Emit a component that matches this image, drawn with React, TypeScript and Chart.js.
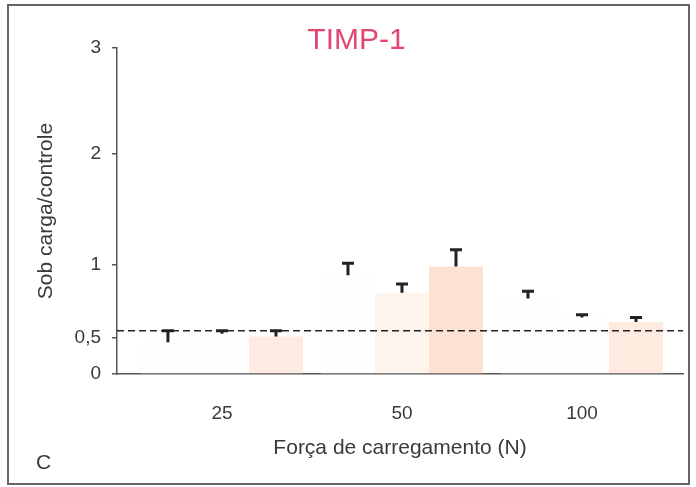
import { useEffect, useRef } from 'react';
import { Chart, registerables, LinearScale } from 'chart.js';

// ---- data ----
const forceLabels = ['25', '50', '100'];
const forcePositions = [0, 1, 2];

const series1 = [0.44, 0.93, 0.77];
const series1Upper = [0.56, 1.03, 0.83];
const series2 = [0.53, 0.81, 0.64];
const series2Upper = [0.56, 0.88, 0.67];
const series3 = [0.51, 0.99, 0.61];
const series3Upper = [0.56, 1.15, 0.65];

const referenceLevel = 0.55;

const yTickValues = [0, 0.5, 1, 2, 3];
const yTickLabels = ['0', '0,5', '1', '2', '3'];

// axis of the original is not uniform between 0 and 1: fraction of axis height for each tick value
const yAxisFractions = [0, 0.1104, 0.3344, 0.6748, 1];

function valueToFraction(v: number): number {
  const b = yTickValues;
  const f = yAxisFractions;
  if (v <= b[0]) return f[0] + (v - b[0]) * (f[1] - f[0]) / (b[1] - b[0]);
  for (let i = 1; i < b.length; i++) {
    if (v <= b[i]) {
      return f[i - 1] + (v - b[i - 1]) * (f[i] - f[i - 1]) / (b[i] - b[i - 1]);
    }
  }
  const n = b.length - 1;
  return f[n] + (v - b[n]) * (f[n] - f[n - 1]) / (b[n] - b[n - 1]);
}

function fractionToValue(fr: number): number {
  const b = yTickValues;
  const f = yAxisFractions;
  for (let i = 1; i < f.length; i++) {
    if (fr <= f[i]) {
      return b[i - 1] + (fr - f[i - 1]) * (b[i] - b[i - 1]) / (f[i] - f[i - 1]);
    }
  }
  return b[b.length - 1];
}

class PiecewiseScale extends LinearScale {
  static id = 'piecewise';
  static defaults = LinearScale.defaults;
  getPixelForValue(value: any) {
    if (value === null || value === undefined || isNaN(value)) return NaN;
    return this.getPixelForDecimal(valueToFraction(value));
  }
  getValueForPixel(pixel: number) {
    return fractionToValue(this.getDecimalForPixel(pixel));
  }
}

Chart.register(...registerables, PiecewiseScale as any);

const upperSeries = [series1Upper, series2Upper, series3Upper];

const FONT = "'Liberation Sans', Arial, Helvetica, sans-serif";
const TEXT = '#3a3a3a';

const errorBarPlugin = {
  id: 'errorBars',
  afterDatasetsDraw(chart: any) {
    const ctx = chart.ctx;
    const y = chart.scales.y;
    const area = chart.chartArea;
    // reference dashed line
    ctx.save();
    ctx.strokeStyle = '#222';
    ctx.lineWidth = 1.5;
    ctx.setLineDash([7, 4]);
    const ry = y.getPixelForValue(referenceLevel);
    ctx.beginPath();
    ctx.moveTo(area.left, ry);
    ctx.lineTo(area.right, ry);
    ctx.stroke();
    ctx.restore();

    ctx.save();
    ctx.strokeStyle = '#222';
    ctx.lineWidth = 3;
    ctx.lineCap = 'butt';
    chart.data.datasets.forEach((_ds: any, di: number) => {
      const meta = chart.getDatasetMeta(di);
      meta.data.forEach((bar: any, i: number) => {
        const top = y.getPixelForValue(upperSeries[di][i]);
        ctx.beginPath();
        ctx.moveTo(bar.x, bar.y);
        ctx.lineTo(bar.x, top);
        ctx.moveTo(bar.x - 6, top + 1.5);
        ctx.lineTo(bar.x + 6, top + 1.5);
        ctx.stroke();
      });
    });
    ctx.restore();
  },
  afterDraw(chart: any) {
    const ctx = chart.ctx;
    ctx.save();
    ctx.strokeStyle = '#666';
    ctx.lineWidth = 2;
    ctx.strokeRect(8, 5, 681, 479);
    ctx.fillStyle = TEXT;
    ctx.font = `21px ${FONT}`;
    ctx.textAlign = 'left';
    ctx.textBaseline = 'middle';
    ctx.fillText('C', 36, 463);
    ctx.restore();
  },
};

export default function App() {
  const ref = useRef<HTMLCanvasElement | null>(null);

  useEffect(() => {
    if (!ref.current) return;
    const mk = (vals: number[]) => vals.map((v, i) => ({ x: forcePositions[i], y: v }));
    const chart = new Chart(ref.current, {
      type: 'bar',
      data: {
        datasets: [
          {
            label: 'A',
            data: mk(series1) as any,
            backgroundColor: ['#fffefe', '#fffefe', '#fffefe'],
            borderWidth: 0,
          },
          {
            label: 'B',
            data: mk(series2) as any,
            backgroundColor: ['#fffefe', '#fef4ee', '#fffefe'],
            borderWidth: 0,
          },
          {
            label: 'C',
            data: mk(series3) as any,
            backgroundColor: ['#feebe1', '#fde2d3', '#feeade'],
            borderWidth: 0,
          },
        ],
      },
      options: {
        responsive: false,
        animation: false,
        events: [],
        categoryPercentage: 0.9,
        barPercentage: 1.0,
        layout: { padding: { left: 30, right: 13, top: 0, bottom: 0 } },
        plugins: {
          legend: { display: false },
          tooltip: { enabled: false },
          title: {
            display: true,
            text: 'TIMP-1',
            color: '#e3466f',
            font: { family: FONT, size: 30, weight: 'normal', lineHeight: 1.2 },
            padding: { top: 23, bottom: -11 },
          },
        },
        scales: {
          x: {
            type: 'linear',
            offset: false,
            min: -0.583,
            max: 2.561,
            afterBuildTicks: (scale: any) => {
              scale.ticks = forcePositions.map((v) => ({ value: v }));
            },
            afterFit: (scale: any) => {
              scale.height = 487 - 374;
            },
            grid: { display: false },
            border: { display: true, color: '#555', width: 1.5 },
            ticks: {
              color: TEXT,
              font: { family: FONT, size: 19 },
              padding: 20,
              maxRotation: 0,
              callback: (v: any) => forceLabels[forcePositions.indexOf(Number(v))] ?? '',
            },
            title: {
              display: true,
              text: 'Força de carregamento (N)',
              color: TEXT,
              font: { family: FONT, size: 21 },
              padding: { top: 0, bottom: 26 },
            },
          },
          y: {
            type: 'piecewise' as any,
            min: 0,
            max: 3,
            afterBuildTicks: (scale: any) => {
              scale.ticks = yTickValues.map((v) => ({ value: v }));
            },
            afterFit: (scale: any) => {
              scale.width = 117 - 30;
            },
            grid: {
              display: true,
              drawOnChartArea: false,
              drawTicks: true,
              tickLength: 5,
              color: '#555',
              lineWidth: 1.5,
            },
            border: { display: true, color: '#555', width: 1.5 },
            ticks: {
              color: TEXT,
              font: { family: FONT, size: 19 },
              padding: 11,
              callback: (v: any) => yTickLabels[yTickValues.indexOf(Number(v))] ?? '',
            },
            title: {
              display: true,
              text: 'Sob carga/controle',
              color: TEXT,
              font: { family: FONT, size: 21 },
              padding: { top: 4, bottom: 0 },
            },
          },
        },
      } as any,
      plugins: [errorBarPlugin],
    });
    return () => chart.destroy();
  }, []);

  return (
    <div style={{ position: 'fixed', left: 0, top: 0, width: 696, height: 487, background: '#fff' }}>
      <canvas ref={ref} width={696} height={487} style={{ display: 'block' }} />
    </div>
  );
}
